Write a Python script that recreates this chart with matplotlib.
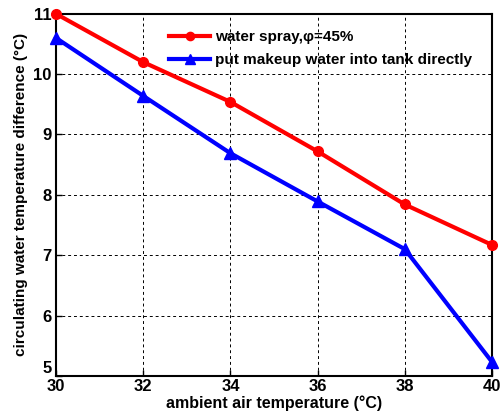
import matplotlib
matplotlib.use("Agg")
import matplotlib.pyplot as plt

x = [30, 32, 34, 36, 38, 40]
spray = [11.0, 10.2, 9.54, 8.72, 7.84, 7.17]
direct = [10.6, 9.64, 8.69, 7.89, 7.1, 5.23]
xticks = [30, 32, 34, 36, 38, 40]
yticks = [5, 6, 7, 8, 9, 10, 11]

plt.rcParams['font.family'] = ['Liberation Sans', 'DejaVu Sans']
fig = plt.figure(figsize=(5, 4.19), dpi=100)
ax = fig.add_axes([0.112, 0.103, 0.872, 0.864])

ax.plot(x, spray, color='#ff0000', lw=3, marker='o', ms=7, label='water spray,\u03c6=45%', clip_on=False, zorder=3)
ax.plot(x, direct, color='#0000ff', lw=3, marker='^', ms=8, label='put makeup water into tank directly', clip_on=False, zorder=3)

ax.set_xlim(30, 40)
ax.set_ylim(5, 11)
ax.set_xticks(xticks)
ax.set_yticks(yticks)
ax.tick_params(direction='in', labelsize=12, length=4, width=1)
for lab in ax.get_xticklabels() + ax.get_yticklabels():
    lab.set_fontweight('bold')
ax.tick_params(axis='x', pad=2)
ax.tick_params(axis='y', pad=3)
ax.get_yticklabels()[0].set_verticalalignment('bottom')
ax.grid(True, linestyle=(0, (3, 3)), color='black', lw=0.7)
for s in ax.spines.values():
    s.set_linewidth(1.5)

ax.set_xlabel('ambient air temperature (\u00b0C)', fontsize=11.5, fontweight='bold', labelpad=1)
ax.set_ylabel('circulating water temperature difference (\u00b0C)', fontsize=11, fontweight='bold', labelpad=4)

leg = ax.legend(loc='upper left', bbox_to_anchor=(0.235, 0.985), frameon=False,
                prop={'size': 11, 'weight': 'bold'}, handlelength=2.7, handletextpad=0.3,
                borderaxespad=0.3, labelspacing=0.6, markerscale=0.85)

fig.savefig('out.png', dpi=100)
